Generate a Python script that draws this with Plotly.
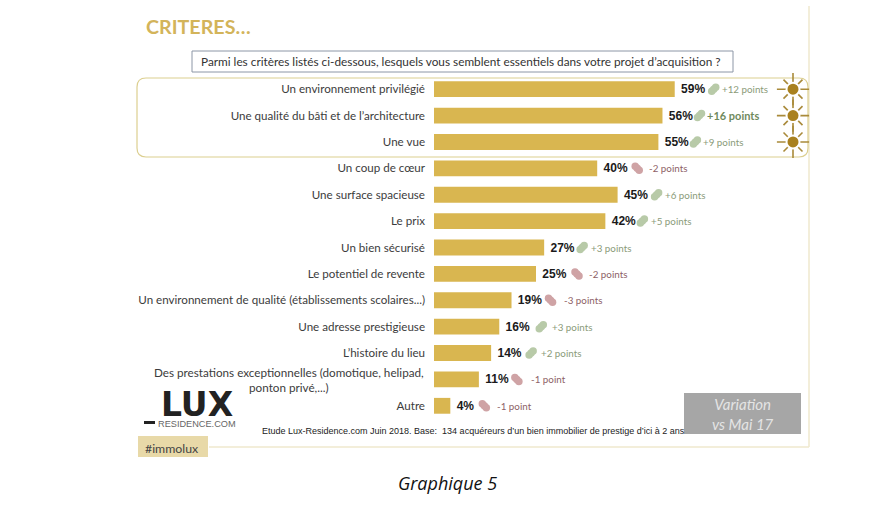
import plotly.graph_objects as go

# ---------- data ----------
categories = [
    "Un environnement privilégié",
    "Une qualité du bâti et de l’architecture",
    "Une vue",
    "Un coup de cœur",
    "Une surface spacieuse",
    "Le prix",
    "Un bien sécurisé",
    "Le potentiel de revente",
    "Un environnement de qualité (établissements scolaires...)",
    "Une adresse prestigieuse",
    "L’histoire du lieu",
    "Des prestations exceptionnelles (domotique, helipad,<br>ponton privé,...)",
    "Autre",
]
values = [59, 56, 55, 40, 45, 42, 27, 25, 19, 16, 14, 11, 4]
variations = [12, 16, 9, -2, 6, 5, 3, -2, -3, 3, 2, -1, -1]
highlighted = [0, 1, 2]
title_text = "CRITERES…"
question = "Parmi les critères listés ci-dessous, lesquels vous semblent essentiels dans votre projet d’acquisition ?"
source = "Etude Lux-Residence.com Juin 2018. Base:  134 acquéreurs d’un bien immobilier de prestige d’ici à 2 ans"
caption = "Graphique 5"

# ---------- layout helpers ----------
W, H = 875, 510
PX_PER_UNIT = 4.08
L, R, T, B = 434, 810, 76, 419
arrow_gap = [39, 37, 37, 40, 39, 37, 38, 41, 39, 42, 40, 38, 34]
text_gap = [45, 43, 43, 50, 45, 44, 45, 51, 50, 51, 48, 50, 45]
GOLD = "#D9B650"
GREEN, RED = "#B8CAA8", "#CFA3A5"
GREEN_T, RED_T = "#8B9B79", "#8E5F66"
SANS = "Lato, 'Noto Sans', sans-serif"
ARIAL = "'Liberation Sans', Arial, sans-serif"

def xp(px):
    return (px - L) / (R - L)
def yp(py):
    return (B - py) / (B - T)

n = len(categories)
rows = list(range(n))
fig = go.Figure()

fig.add_bar(
    x=values, y=rows, orientation="h", marker=dict(color=GOLD, line_width=0), width=0.6,
    text=[f"<b>\u00a0{v}%</b>" for v in values], textposition="outside", cliponaxis=False,
    textfont=dict(family=ARIAL, size=12, color="#1a1a1a"), showlegend=False, hoverinfo="skip",
)

# variation arrows (soft pills made of three overlapping discs)
ax, ay, ac = [], [], []
for i, (v, d) in enumerate(zip(values, variations)):
    sign = -1 if d > 0 else 1
    for k in (-1, 0, 1):
        ax.append(v + (arrow_gap[i] + 2 * k) / PX_PER_UNIT)
        ay.append(i + sign * k * 2 / 26.4)
        ac.append(GREEN if d > 0 else RED)
fig.add_scatter(x=ax, y=ay, mode="markers", marker=dict(size=7.5, color=ac, line_width=0),
                cliponaxis=False, showlegend=False, hoverinfo="skip")

# suns on the highlighted rows
sun_x = [(793 - L) / PX_PER_UNIT] * len(highlighted)
for sym, size in (("cross-thin-open", 23), ("x-thin-open", 19)):
    fig.add_scatter(x=sun_x, y=highlighted, mode="markers",
                    marker=dict(symbol=sym, size=size, color="#A98A3A", line=dict(color="#A98A3A", width=1.6)),
                    cliponaxis=False, showlegend=False, hoverinfo="skip")
fig.add_scatter(x=sun_x, y=highlighted, mode="markers",
                marker=dict(size=13, color="#A9811F", line=dict(color="white", width=2)),
                cliponaxis=False, showlegend=False, hoverinfo="skip")

ann = []
for i, (v, d) in enumerate(zip(values, variations)):
    unit = "point" if abs(d) == 1 else "points"
    label = f"{d:+d} {unit}"
    big = d == max(variations)
    ann.append(dict(
        x=v, y=i, xref="x", yref="y", xshift=text_gap[i], xanchor="left", yanchor="middle",
        text=f"<b>{label}</b>" if big else label, showarrow=False,
        font=dict(family=SANS, size=11 if big else 9.8,
                  color=("#6F8A5C" if big else GREEN_T) if d > 0 else RED_T),
    ))

def note(px, py, text, size, color, family=SANS, anchor="left", **kw):
    ann.append(dict(x=xp(px), y=yp(py), xref="paper", yref="paper", text=text, showarrow=False,
                    xanchor=anchor, yanchor="middle", font=dict(family=family, size=size, color=color), **kw))

# centred two-line category label
multi = [i for i, c in enumerate(categories) if "<br>" in c]
for i in multi:
    ann.append(dict(x=0, y=i, xref="x", yref="y", xshift=-8, xanchor="right", yanchor="middle",
                    text=categories[i], align="center", showarrow=False,
                    font=dict(family=SANS, size=11.7, color="#3c3c3c")))

note(461, 61, question, 11.8, "#333", anchor="center")
note(197, 404, "<b>LUX</b>", 33, "#222", family="'DejaVu Sans', sans-serif", anchor="center")
note(197, 424, "RESIDENCE.COM", 9.2, "#666", family=ARIAL, anchor="center")
note(260, 431, source, 9, "#222", family=ARIAL)
note(143, 448, "#immolux", 12.3, "#444")
note(742.5, 413.5, "<i>Variation<br>vs Mai 17</i>", 15, "#E4E4E4", anchor="center", align="center")
note(447, 483, f"<i>{caption}</i>", 18, "#111", family="'Open Sans', sans-serif", anchor="center")

def rect(x0, y0, x1, y1, **kw):
    return dict(type="rect", xref="paper", yref="paper", x0=xp(x0), x1=xp(x1), y0=yp(y0), y1=yp(y1), layer="below", **kw)

def line(x0, y0, x1, y1, color="#EFE9CE", width=1.5):
    return dict(type="line", xref="paper", yref="paper", x0=xp(x0), x1=xp(x1), y0=yp(y0), y1=yp(y1),
                line=dict(color=color, width=width), layer="below")

def rounded(x0, y0, x1, y1, r):
    X0, X1, Y0, Y1 = xp(x0), xp(x1), yp(y0), yp(y1)
    rx, ry = r / (R - L), r / (B - T)
    return (f"M {X0+rx} {Y0} L {X1-rx} {Y0} Q {X1} {Y0} {X1} {Y0-ry} L {X1} {Y1+ry} Q {X1} {Y1} {X1-rx} {Y1} "
            f"L {X0+rx} {Y1} Q {X0} {Y1} {X0} {Y1+ry} L {X0} {Y0-ry} Q {X0} {Y0} {X0+rx} {Y0} Z")

shapes = [
    line(809, 6, 809, 447),
    line(209, 447, 809, 447),
    rect(192, 51, 733, 72, line=dict(color="#8C96A6", width=1), fillcolor="white"),
    dict(type="path", xref="paper", yref="paper", path=rounded(137, 78, 808, 157, 9),
         line=dict(color="#DCCF90", width=1.2), layer="below"),
    rect(144, 421, 155, 424, fillcolor="#222", line_width=0),
    rect(138, 436, 208, 457, fillcolor="#E8D9A8", line_width=0),
    rect(684, 393, 801, 434, fillcolor="#A6A6A6", line_width=0),
]

ticktext = ["" if "<br>" in c else c for c in categories]

fig.update_layout(
    width=W, height=H, autosize=False, paper_bgcolor="white", plot_bgcolor="rgba(0,0,0,0)",
    margin=dict(l=L, r=W - R, t=T, b=H - B), bargap=0.4, showlegend=False,
    title=dict(text=f"<b>{title_text}</b>", x=146 / W, xanchor="left", xref="container",
               y=1 - 27 / H, yanchor="middle", font=dict(family=SANS, size=19.7, color="#D3B45A")),
    xaxis=dict(range=[0, (R - L) / PX_PER_UNIT], visible=False, fixedrange=True),
    yaxis=dict(range=[n - 0.5, -0.5], tickmode="array", tickvals=rows, ticktext=ticktext,
               showgrid=False, zeroline=False, showline=False, ticks="", ticklabelstandoff=8,
               tickfont=dict(family=SANS, size=11.6, color="#3c3c3c"), fixedrange=True),
    annotations=ann, shapes=shapes,
)
fig.write_html("out.html", config={"displayModeBar": False},
               post_script="document.body.style.margin='0';window.dispatchEvent(new Event('resize'));")
